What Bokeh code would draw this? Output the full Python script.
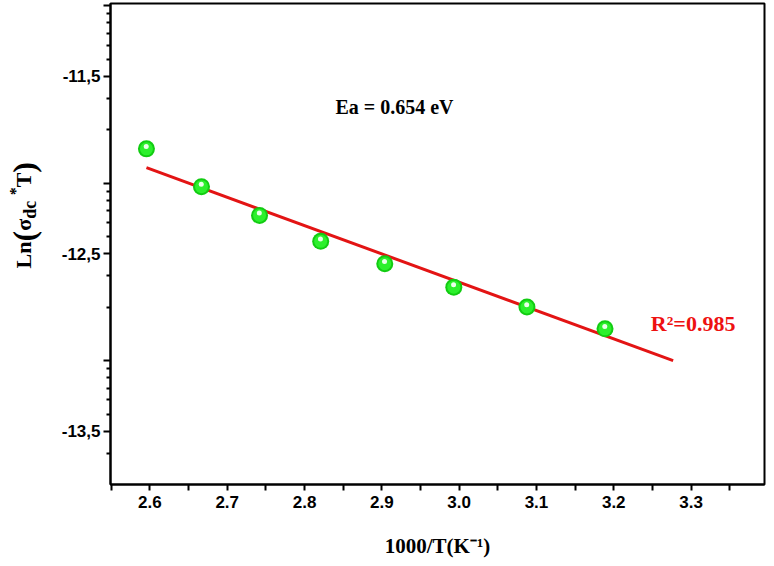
import math
from bokeh.plotting import figure
from bokeh.models import FixedTicker, Label, Range1d, ColumnDataSource, Div
from bokeh.layouts import row
from bokeh.transform import dodge
from bokeh.embed import file_html
from bokeh.resources import INLINE

# ---- data ----
inv_T = [2.5955, 2.6667, 2.7418, 2.8209, 2.9038, 2.9931, 3.0877, 3.1887]
ln_sigma_T = [-11.909, -12.122, -12.284, -12.430, -12.556, -12.688, -12.800, -12.923]
fit_x = [2.5955, 3.2768]
fit_y = [-12.015, -13.102]

x_tick_values = [2.6, 2.7, 2.8, 2.9, 3.0, 3.1, 3.2, 3.3]
x_tick_labels = ["2.6", "2.7", "2.8", "2.9", "3.0", "3.1", "3.2", "3.3"]
x_minor_values = [2.55, 2.65, 2.75, 2.85, 2.95, 3.05, 3.15, 3.25, 3.35]
y_tick_values = [-13.5, -12.5, -11.5]
y_tick_labels = ["-13,5", "-12,5", "-11,5"]
y_decade_values = [-13.102, -12.102, -11.102]

ea_text = "Ea = 0.654 eV"
r2_text = "R\u00b2=0.985"
x_title = "1000/T(K\u207b\u00b9)"

X0, X1 = 2.549, 3.395
Y0, Y1 = -13.80, -11.09

LEFT_W = 52  # width of the y-title strip

# ---- figure ----
p = figure(width=768 - LEFT_W, height=566,
           x_range=Range1d(X0, X1), y_range=Range1d(Y0, Y1),
           output_backend="svg", toolbar_location=None,
           min_border_left=110 - LEFT_W, min_border_right=4, min_border_top=3, min_border_bottom=82)
p.grid.visible = False
p.outline_line_color = "black"
p.outline_line_width = 2
p.background_fill_color = "white"
p.border_fill_color = "white"

# x axis
xa = p.xaxis[0]
xa.ticker = FixedTicker(ticks=x_tick_values, minor_ticks=x_minor_values)
xa.major_label_overrides = {v: s for v, s in zip(x_tick_values, x_tick_labels)}
xa.axis_line_width = 2
xa.major_tick_line_width = 2
xa.minor_tick_line_width = 2
xa.major_tick_in = 0
xa.major_tick_out = 6
xa.minor_tick_in = 0
xa.minor_tick_out = 6
xa.major_label_standoff = 5
xa.major_label_text_font = "Liberation Sans"
xa.major_label_text_font_style = "bold"
xa.major_label_text_font_size = "17px"
xa.major_label_text_color = "black"
xa.axis_label = x_title
xa.axis_label_text_font = "Liberation Serif"
xa.axis_label_text_font_style = "bold"
xa.axis_label_text_font_size = "21px"
xa.axis_label_text_color = "black"
xa.axis_label_standoff = 23

# y axis (log-style minor ticks as in the reference)
y_minor = []
for b in [-14.102] + y_decade_values:
    for k in range(2, 10):
        v = b + math.log10(k)
        if Y0 <= v <= Y1 and all(abs(v - t) > 1e-3 for t in y_tick_values):
            y_minor.append(v)
ya = p.yaxis[0]
ya.ticker = FixedTicker(ticks=y_tick_values + y_decade_values, minor_ticks=y_minor)
ov = {v: s for v, s in zip(y_tick_values, y_tick_labels)}
ov.update({v: "" for v in y_decade_values})
ya.major_label_overrides = ov
ya.axis_line_width = 2
ya.major_tick_line_width = 2
ya.minor_tick_line_width = 2
ya.major_tick_in = 0
ya.major_tick_out = 7
ya.minor_tick_in = 0
ya.minor_tick_out = 4
ya.major_label_standoff = 3
ya.major_label_text_font = "Liberation Sans"
ya.major_label_text_font_style = "bold"
ya.major_label_text_font_size = "17px"
ya.major_label_text_color = "black"

# fit line
p.line(fit_x, fit_y, line_color="#e31414", line_width=3)

# markers (green spheres)
src = ColumnDataSource(dict(x=inv_T, y=ln_sigma_T))
p.scatter("x", "y", source=src, size=17, fill_color="#12cc12", line_color=None)
p.scatter("x", "y", source=src, size=13, fill_color="#2cf02c", line_color=None)
p.scatter(dodge("x", -0.0003), dodge("y", 0.013), source=src, size=5,
          fill_color="#eaffea", line_color=None)

# annotations
p.add_layout(Label(x=2.84, y=-11.674, text=ea_text, text_font="Liberation Serif",
                   text_font_style="bold", text_font_size="20px", text_color="black",
                   text_align="left", text_baseline="middle"))
p.add_layout(Label(x=3.248, y=-12.895, text=r2_text, text_font="Liberation Serif",
                   text_font_style="bold", text_font_size="22px", text_color="#ee1111",
                   text_align="left", text_baseline="middle"))

# y axis title with subscript, as real (HTML) text in a strip left of the plot
y_title_html = (
    '<div style="width:%dpx;height:566px;display:flex;justify-content:center;'
    'align-items:flex-start;padding-top:162px;padding-right:4px;box-sizing:border-box;">'
    '<div style="writing-mode:vertical-rl;transform:rotate(180deg);'
    "font-family:'Liberation Serif';font-weight:bold;font-size:22px;white-space:nowrap;"
    'color:black;line-height:1;">'
    'Ln<span style="font-size:32px">(</span>&sigma;<sub style="font-size:18px">dc</sub>'
    '&nbsp;<sup style="font-size:16px">*</sup>T<span style="font-size:32px">)</span>'
    '</div></div>' % LEFT_W
)
ytitle = Div(text=y_title_html, width=LEFT_W, height=566, margin=0)

layout = row(ytitle, p, spacing=0)
open("out.html", "w").write(file_html(layout, INLINE))
